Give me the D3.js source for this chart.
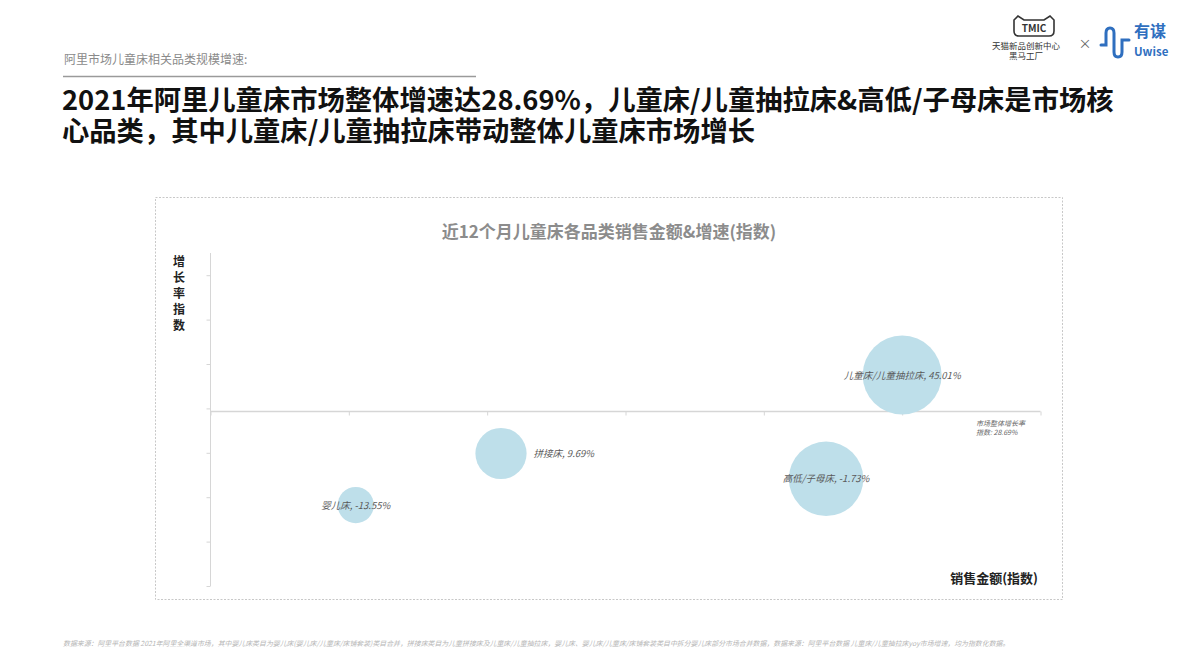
<!DOCTYPE html>
<html>
<head>
<meta charset="utf-8">
<script src="https://cdn.jsdelivr.net/npm/d3@7/dist/d3.min.js"></script>
<style>
  html, body { margin: 0; padding: 0; background: #fff; }
  svg { display: block; font-family: "Noto Sans CJK SC", "Noto Sans", sans-serif; }
</style>
</head>
<body>
<svg id="chart" width="1200" height="672"></svg>
<script>
// ---- data ----
const categories = ["婴儿床", "拼接床", "高低/子母床", "儿童床/儿童抽拉床"];
const salesIndex = [21, 42, 89, 100];          // 销售金额(指数)
const growthRate = [-13.55, 9.69, -1.73, 45.01]; // 增长率 %
const labelPlacement = ["center", "right", "center", "center"];
const marketGrowth = 28.69;
const xTicks = [0, 20, 40, 60, 80, 100, 120];
const yTicks = [-50, -30, -10, 10, 30, 50, 70, 90];

const headerText = "阿里市场儿童床相关品类规模增速:";
const titleLines = [
  "2021年阿里儿童床市场整体增速达28.69%，儿童床/儿童抽拉床&高低/子母床是市场核",
  "心品类，其中儿童床/儿童抽拉床带动整体儿童床市场增长"
];
const chartTitle = "近12个月儿童床各品类销售金额&增速(指数)";
const yAxisLabel = ["增", "长", "率", "指", "数"];
const xAxisLabel = "销售金额(指数)";
const marketLabel = ["市场整体增长率", "指数: 28.69%"];
const footnote = "数据来源：阿里平台数据 2021年阿里全渠道市场，其中婴儿床类目为婴儿床(婴儿床/儿童床/床铺套装)类目合并，拼接床类目为儿童拼接床及儿童床/儿童抽拉床，婴儿床、婴儿床/儿童床/床铺套装类目中拆分婴儿床部分市场合并数据，数据来源：阿里平台数据 儿童床/儿童抽拉床yoy市场增速，均为指数化数据。";

const data = categories.map((c, i) => ({ name: c, x: salesIndex[i], y: growthRate[i], place: labelPlacement[i] }));

const svg = d3.select("#chart");

// ---- header ----
svg.append("text").attr("x", 64).attr("y", 64).attr("font-size", 12).attr("fill", "#8a8a8a").text(headerText);
svg.append("line").attr("x1", 63).attr("x2", 476).attr("y1", 76.5).attr("y2", 76.5).attr("stroke", "#9a9a9a").attr("stroke-width", 1.5);
const title = svg.append("text").attr("font-size", 27.3).attr("font-weight", 700).attr("fill", "#111");
titleLines.forEach((t, i) => {
  title.append("tspan").attr("x", 62).attr("y", 110 + i * 30.5).text(t);
});

// ---- logos ----
const logo = svg.append("g");
logo.append("path")
  .attr("d", "M1014,20 L1018,16 L1024,20 L1044,20 L1050,16 L1054,20 L1054,31 Q1054,36 1049,36 L1019,36 Q1014,36 1014,31 Z")
  .attr("fill", "none").attr("stroke", "#333").attr("stroke-width", 1.6);
logo.append("text").attr("x", 1034).attr("y", 32).attr("text-anchor", "middle").attr("font-size", 10)
  .attr("font-weight", 700).attr("fill", "#333").text("TMIC");
logo.append("text").attr("x", 1026).attr("y", 49).attr("text-anchor", "middle").attr("font-size", 8.5).attr("fill", "#333").text("天猫新品创新中心");
logo.append("text").attr("x", 1026).attr("y", 59).attr("text-anchor", "middle").attr("font-size", 8.5).attr("fill", "#333").text("黑马工厂");
logo.append("text").attr("x", 1085).attr("y", 48).attr("text-anchor", "middle").attr("font-size", 13).attr("fill", "#666").text("×");
logo.append("path")
  .attr("d", "M1101,45 L1106,45 L1106,33 Q1106,28 1110,28 Q1114,28 1114,33 L1114,52 Q1114,57 1118,57 Q1122,57 1122,52 L1122,40 L1129,40")
  .attr("fill", "none").attr("stroke", "#2f6fbf").attr("stroke-width", 3).attr("stroke-linecap", "round");
logo.append("text").attr("x", 1134).attr("y", 37).attr("font-size", 16).attr("font-weight", 700).attr("fill", "#2f6fbf").text("有谋");
logo.append("text").attr("x", 1134).attr("y", 56).attr("font-size", 11.5).attr("font-weight", 700).attr("fill", "#2f6fbf").text("Uwise");

// ---- chart frame ----
svg.append("rect").attr("x", 155.5).attr("y", 197.5).attr("width", 907).attr("height", 402)
  .attr("fill", "none").attr("stroke", "#c8c8c8").attr("stroke-width", 1).attr("stroke-dasharray", "2,1.5");

svg.append("text").attr("x", 609).attr("y", 238).attr("text-anchor", "middle").attr("font-size", 17)
  .attr("font-weight", 700).attr("fill", "#8c8c8c").text(chartTitle);

// ---- scales ----
const x = d3.scaleLinear().domain([0, 120]).range([210.5, 1040.5]);
const y = d3.scaleLinear().domain([-50, 100]).range([586, 253]);
const r = d3.scaleSqrt().domain([0, 100]).range([0, 39.5]);

const axisColor = "#d6d6d6";

// y axis
const yAxis = svg.append("g").attr("transform", "translate(210.5,0)")
  .call(d3.axisLeft(y).tickValues(yTicks).tickSize(4).tickFormat(""));
yAxis.select(".domain").attr("stroke", axisColor).attr("d", `M0,${y(100)}V${y(-50)}`);
yAxis.selectAll(".tick line").attr("stroke", axisColor);

// x axis at market growth
const xAxis = svg.append("g").attr("transform", `translate(0,${Math.round(y(marketGrowth)) + 0.5})`)
  .call(d3.axisBottom(x).tickValues(xTicks).tickSize(4).tickFormat(""));
xAxis.select(".domain").attr("stroke", axisColor).attr("stroke-width", 1.5).attr("d", `M${x(0)},0H${x(120)}`);
xAxis.selectAll(".tick line").attr("stroke", axisColor);

// ---- bubbles ----
svg.append("g").selectAll("circle").data(data).join("circle")
  .attr("cx", d => x(d.x)).attr("cy", d => y(d.y)).attr("r", d => r(d.x))
  .attr("fill", "#bedfea");

svg.append("g").selectAll("text").data(data).join("text")
  .attr("x", d => d.place === "right" ? x(d.x) + r(d.x) + 7 : x(d.x))
  .attr("y", d => y(d.y) + 3.5)
  .attr("text-anchor", d => d.place === "right" ? "start" : "middle")
  .attr("font-size", 9.5).attr("font-style", "italic").attr("fill", "#5a5a5a")
  .text(d => `${d.name}, ${d.y.toFixed(2)}%`);

// market label
marketLabel.forEach((t, i) => {
  svg.append("text").attr("x", 976).attr("y", 426 + i * 9).attr("font-size", 7).attr("font-style", "italic")
    .attr("fill", "#666").text(t);
});

// axis titles
yAxisLabel.forEach((c, i) => {
  svg.append("text").attr("x", 179).attr("y", 266 + i * 16).attr("text-anchor", "middle")
    .attr("font-size", 12).attr("font-weight", 700).attr("fill", "#222").text(c);
});
svg.append("text").attr("x", 1038).attr("y", 583).attr("text-anchor", "end").attr("font-size", 13)
  .attr("font-weight", 700).attr("fill", "#222").text(xAxisLabel);

// footnote
svg.append("text").attr("x", 63).attr("y", 646).attr("font-size", 6.9).attr("font-style", "italic")
  .attr("fill", "#b5b5b5").text(footnote);
</script>
</body>
</html>
